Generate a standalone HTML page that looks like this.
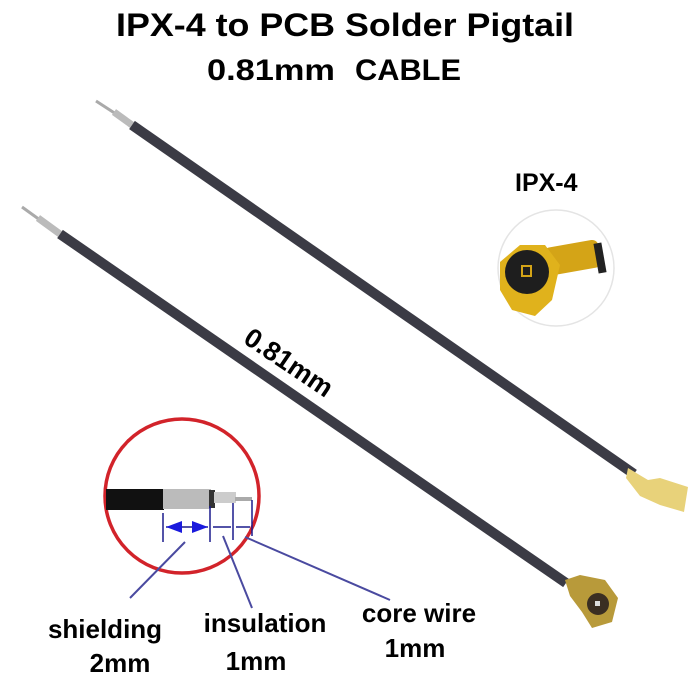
<!DOCTYPE html>
<html><head><meta charset="utf-8"><style>
html,body{margin:0;padding:0;background:#fff;}
svg{display:block;}
text{font-family:"Liberation Sans",sans-serif;font-weight:bold;fill:#000;}
</style></head><body>
<svg width="700" height="700" viewBox="0 0 700 700">
<text x="345" y="36" font-size="32" text-anchor="middle" textLength="458" lengthAdjust="spacingAndGlyphs">IPX-4 to PCB Solder Pigtail</text>
<text x="207" y="80" font-size="30" textLength="128" lengthAdjust="spacingAndGlyphs">0.81mm</text>
<text x="355" y="80" font-size="30" textLength="106" lengthAdjust="spacingAndGlyphs">CABLE</text>
<text x="515" y="191" font-size="25">IPX-4</text>
<text x="0" y="0" font-size="27" transform="translate(242,342) rotate(34)">0.81mm</text>

<!-- upper cable -->
<line x1="96" y1="101" x2="116" y2="114" stroke="#aaa" stroke-width="3"/>
<line x1="114" y1="112" x2="132" y2="125" stroke="#bbb" stroke-width="7"/>
<line x1="132" y1="125" x2="634" y2="474" stroke="#3b3b45" stroke-width="10"/>
<polygon points="628,468 648,480 660,478 688,487 684,512 660,505 640,496 626,478" fill="#e8d27a"/>
<!-- lower cable -->
<line x1="22" y1="207" x2="40" y2="220" stroke="#aaa" stroke-width="3"/>
<line x1="38" y1="218" x2="60" y2="234" stroke="#bbb" stroke-width="7"/>
<line x1="60" y1="234" x2="566" y2="583" stroke="#3b3b45" stroke-width="10"/>
<polygon points="565,580 580,575 605,580 618,598 612,622 592,628 582,612 570,596" fill="#b89a3a"/>
<circle cx="598" cy="604" r="11" fill="#3a2e22"/>
<rect x="595" y="601" width="5" height="5" fill="#ddd"/>

<!-- IPX-4 connector -->
<circle cx="556" cy="268" r="58" fill="#fff" stroke="#e4e4e4" stroke-width="1.5"/>
<rect x="545" y="244" width="55" height="28" rx="6" fill="#d4a417" transform="rotate(-10 570 258)"/>
<polygon points="500,262 520,245 545,245 560,265 552,300 535,316 512,310 500,290" fill="#e0b21c"/>
<circle cx="527" cy="272" r="22" fill="#1e1e1e"/>
<rect x="522" y="266" width="9" height="10" fill="none" stroke="#d4a417" stroke-width="2"/>
<rect x="596" y="243" width="8" height="30" fill="#222" transform="rotate(-10 600 258)"/>

<!-- zoom circle -->
<circle cx="182" cy="496" r="77" fill="#fff" stroke="#d2232a" stroke-width="3.5"/>
<rect x="106" y="489" width="58" height="21" fill="#111"/>
<rect x="163" y="489" width="48" height="20" fill="#bbb"/>
<rect x="209" y="490" width="6" height="18" fill="#333"/>
<rect x="214" y="492" width="22" height="11" fill="#ccc"/>
<rect x="235" y="497" width="17" height="4" fill="#aaa"/>
<g stroke="#1a1a8c" stroke-width="1.5">
<line x1="163" y1="513" x2="163" y2="542"/>
<line x1="210" y1="506" x2="210" y2="542"/>
<line x1="233" y1="503" x2="233" y2="540"/>
<line x1="252" y1="500" x2="252" y2="536"/>
<line x1="166" y1="527" x2="208" y2="527"/>
<line x1="213" y1="527" x2="231" y2="527"/>
<line x1="236" y1="527" x2="250" y2="527"/>
</g>
<polygon points="166,527 182,521 182,533" fill="#1a1add"/>
<polygon points="208,527 192,521 192,533" fill="#1a1add"/>
<g stroke="#4a4aa0" stroke-width="2">
<line x1="185" y1="542" x2="130" y2="598"/>
<line x1="223" y1="536" x2="252" y2="608"/>
<line x1="245" y1="537" x2="390" y2="600"/>
</g>

<text x="105" y="638" font-size="26" text-anchor="middle">shielding</text>
<text x="120" y="672" font-size="26" text-anchor="middle">2mm</text>
<text x="265" y="632" font-size="26" text-anchor="middle">insulation</text>
<text x="256" y="670" font-size="26" text-anchor="middle">1mm</text>
<text x="419" y="622" font-size="26" text-anchor="middle">core wire</text>
<text x="415" y="657" font-size="26" text-anchor="middle">1mm</text>
</svg>
</body></html>
